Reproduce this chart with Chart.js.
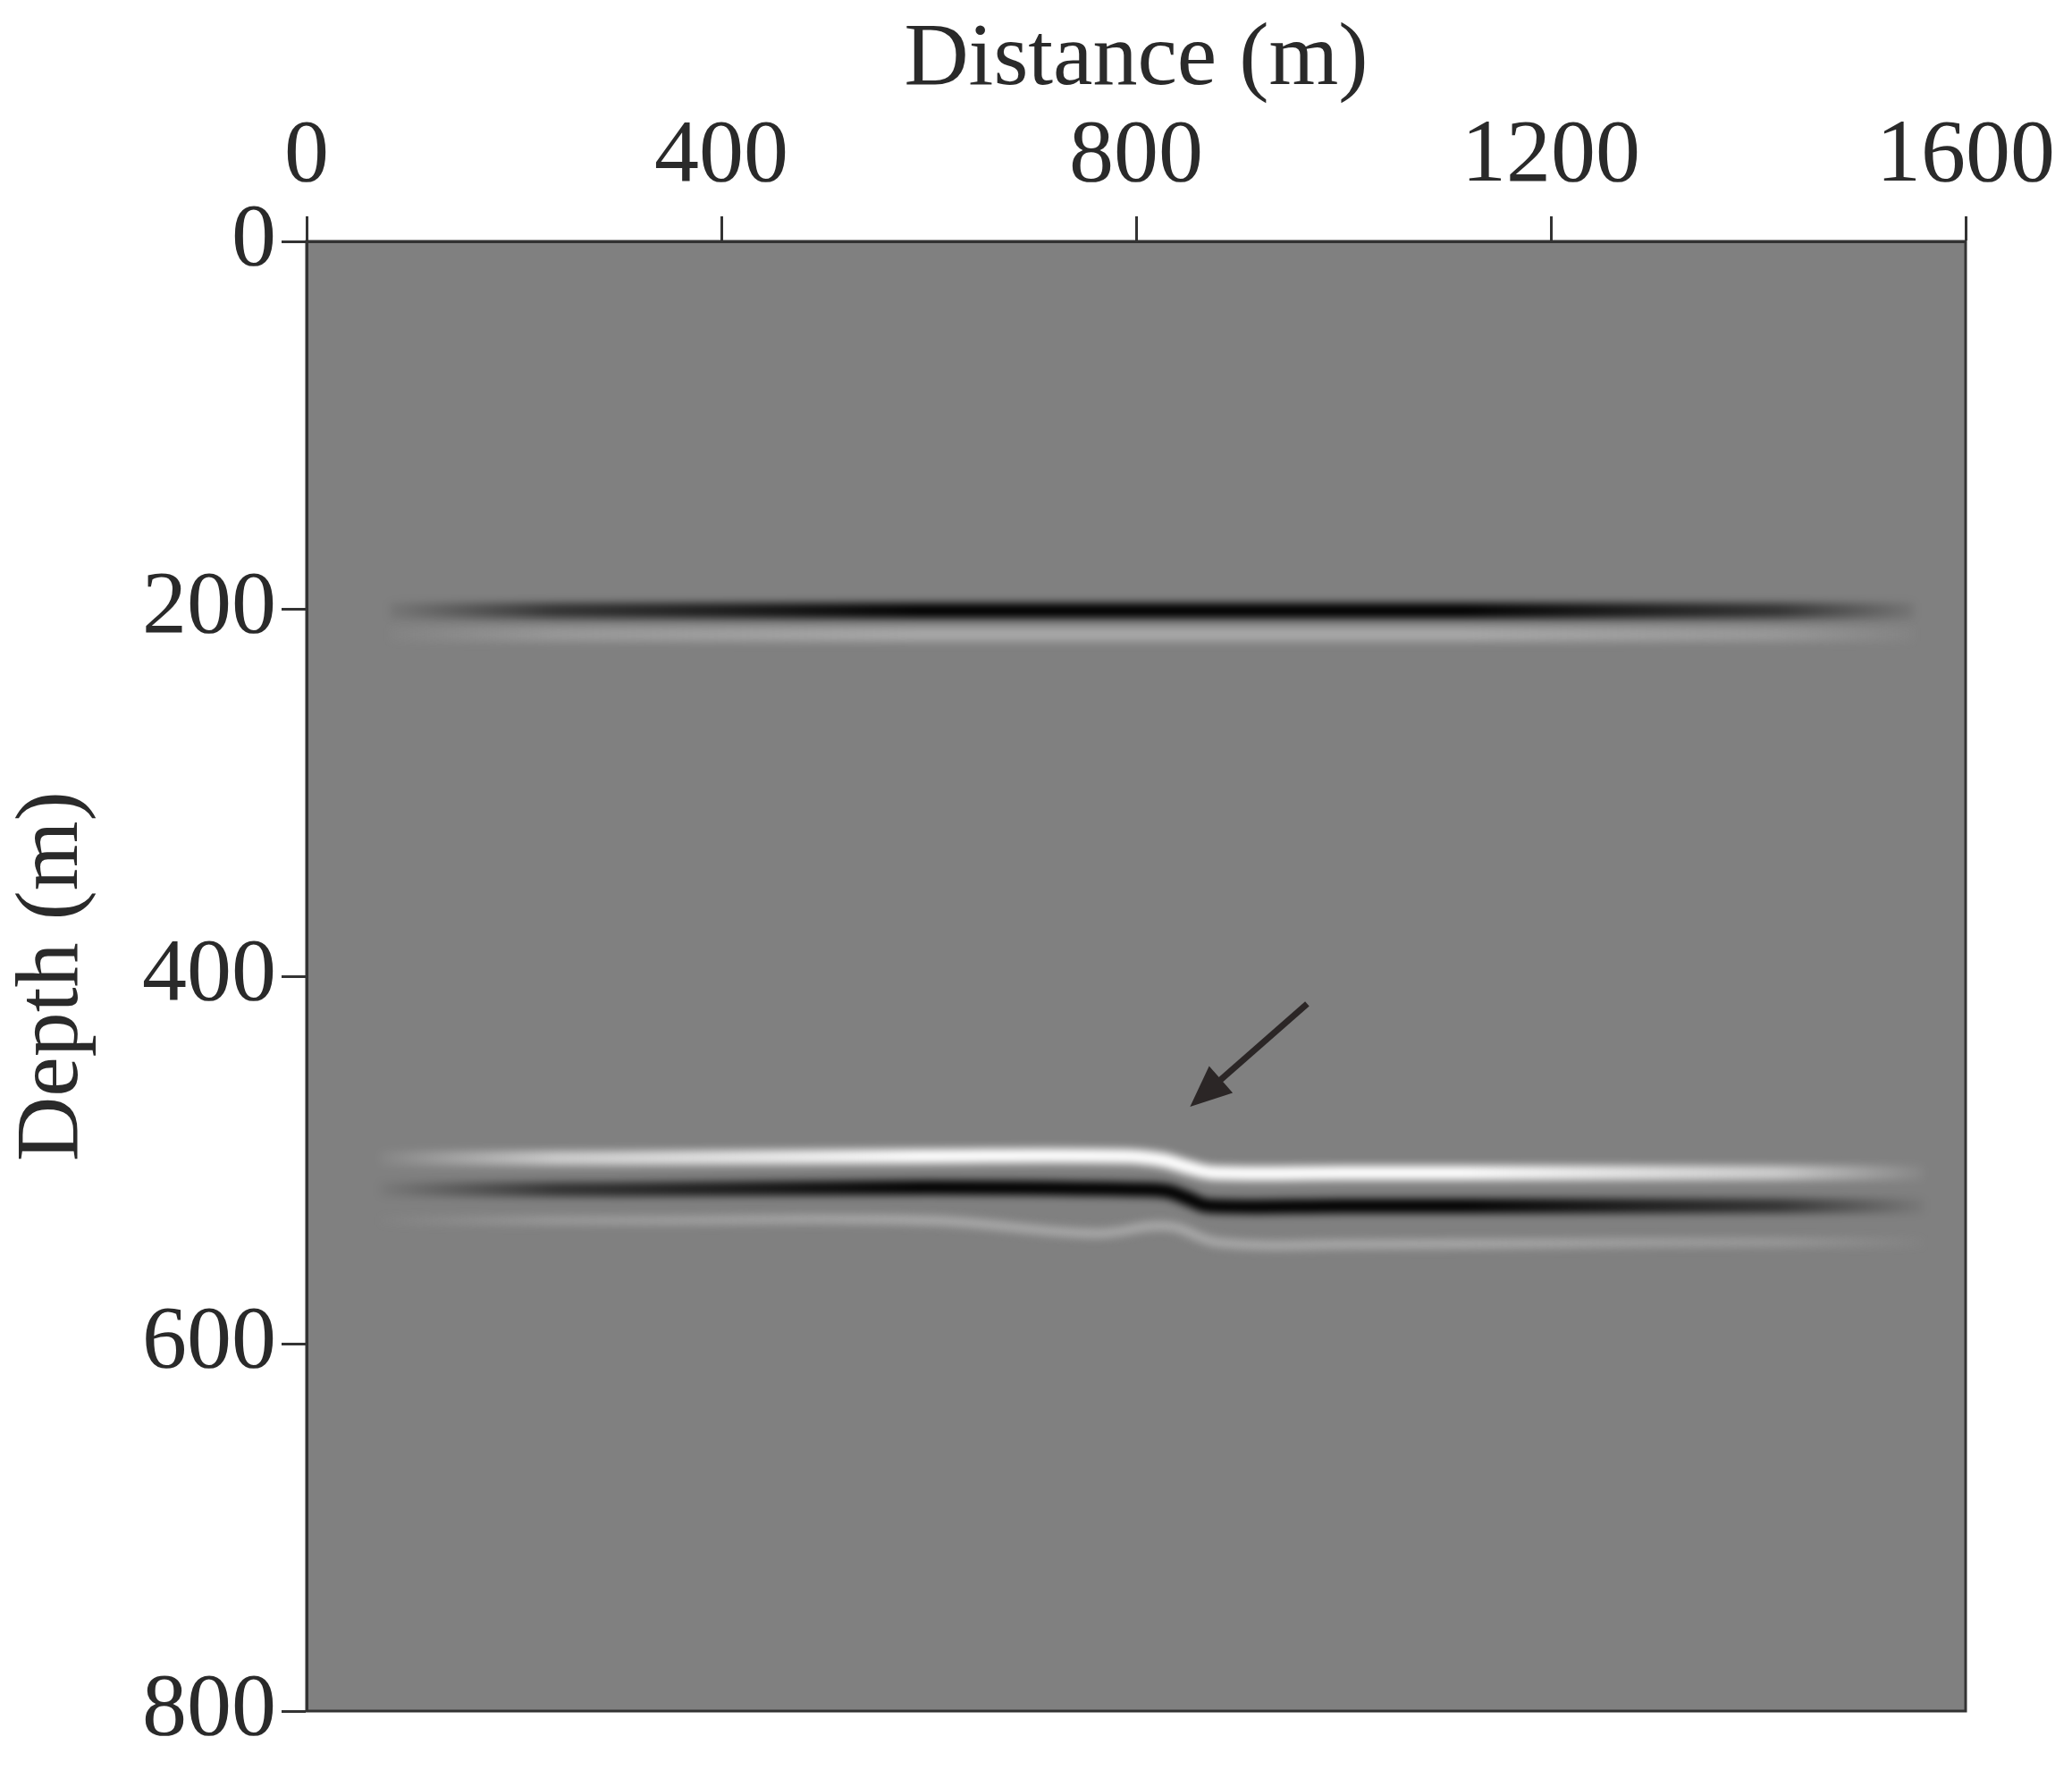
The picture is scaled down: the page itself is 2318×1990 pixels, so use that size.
<!DOCTYPE html>
<html><head><meta charset="utf-8">
<script src="https://cdn.jsdelivr.net/npm/chart.js@4/dist/chart.umd.min.js"></script>
<style>html,body{margin:0;padding:0;background:#fff}</style>
</head><body><canvas id="c" width="2318" height="1990"></canvas>
<script>
const xTicks = [0, 400, 800, 1200, 1600];
const yTicks = [0, 200, 400, 600, 800];
// reflectors: distance (m) and depth (m)
const r1DarkX = [80, 400, 800, 1200, 1550];
const r1DarkY = [201, 201, 201, 201, 201];
const r1LightX = [80, 400, 800, 1200, 1550];
const r1LightY = [214, 214, 214, 214, 214];
const r2WhiteX = [70, 300, 600, 790, 825, 850, 875, 1000, 1300, 1560];
const r2WhiteY = [499, 499, 498, 498, 500, 504, 507, 507, 507, 507];
const r2DarkX = [70, 300, 600, 800, 830, 850, 870, 1000, 1300, 1560];
const r2DarkY = [516, 516, 515, 516, 517, 521, 525, 525, 525, 525];
const r2FaintX = [70, 300, 600, 760, 830, 880, 1000, 1300, 1560];
const r2FaintY = [533, 533, 533, 540, 536, 545, 546, 545, 545];
const arrowX = [965, 852];
const arrowY = [415, 471];

function pts(xs, ys){ return xs.map((x,i)=>({x:x, y:ys[i]})); }
function grad(rgb, a){
  return (c)=>{
    const ch=c.chart, ca=ch.chartArea; if(!ca) return 'rgba('+rgb+','+a+')';
    const sx=ch.scales.x, g=ch.ctx.createLinearGradient(sx.getPixelForValue(60),0,sx.getPixelForValue(1570),0);
    g.addColorStop(0,'rgba('+rgb+',0)');
    g.addColorStop(0.12,'rgba('+rgb+','+(a*0.6)+')');
    g.addColorStop(0.35,'rgba('+rgb+','+a+')');
    g.addColorStop(0.7,'rgba('+rgb+','+a+')');
    g.addColorStop(0.9,'rgba('+rgb+','+(a*0.6)+')');
    g.addColorStop(1,'rgba('+rgb+',0)');
    return g;
  };
}
function ds(xs, ys, rgb, a, w){
  return {data:pts(xs,ys), borderColor:grad(rgb,a), borderWidth:w, pointRadius:0, tension:0.4, fill:false};
}
const bgPlugin = {
  id:'bg',
  beforeDraw(ch){ const {ctx,chartArea:a}=ch; ctx.save(); ctx.fillStyle='#fff'; ctx.fillRect(0,0,ch.width,ch.height); ctx.fillStyle='#808080'; ctx.fillRect(a.left,a.top,a.right-a.left,a.bottom-a.top); ctx.restore(); },
  beforeDatasetsDraw(ch){ const {ctx,chartArea:a}=ch; ctx.save(); ctx.beginPath(); ctx.rect(a.left,a.top,a.right-a.left,a.bottom-a.top); ctx.clip(); ctx.filter='blur(5px)'; },
  afterDatasetsDraw(ch){
    const ctx=ch.ctx; ctx.restore();
    const sx=ch.scales.x, sy=ch.scales.y;
    const x0=sx.getPixelForValue(arrowX[0]), y0=sy.getPixelForValue(arrowY[0]);
    const x1=sx.getPixelForValue(arrowX[1]), y1=sy.getPixelForValue(arrowY[1]);
    const ang=Math.atan2(y1-y0,x1-x0), L=46, W=20;
    ctx.save(); ctx.strokeStyle='#2b2626'; ctx.fillStyle='#2b2626'; ctx.lineWidth=7;
    ctx.beginPath(); ctx.moveTo(x0,y0); ctx.lineTo(x1-Math.cos(ang)*L*0.8,y1-Math.sin(ang)*L*0.8); ctx.stroke();
    ctx.beginPath(); ctx.moveTo(x1,y1);
    ctx.lineTo(x1-Math.cos(ang)*L-Math.sin(ang)*W, y1-Math.sin(ang)*L+Math.cos(ang)*W);
    ctx.lineTo(x1-Math.cos(ang)*L+Math.sin(ang)*W, y1-Math.sin(ang)*L-Math.cos(ang)*W);
    ctx.closePath(); ctx.fill();
    const a=ch.chartArea; ctx.strokeStyle='#333'; ctx.lineWidth=3; ctx.strokeRect(a.left,a.top,a.right-a.left,a.bottom-a.top);
    ctx.restore();
  }
};
const font = {family:'"Liberation Serif", "DejaVu Serif", serif', size:100};
new Chart(document.getElementById('c'), {
  type:'line',
  data:{datasets:[
    ds(r1LightX, r1LightY, '200,200,200', 0.55, 16),
    ds(r1DarkX, r1DarkY, '0,0,0', 1, 17),
    ds(r2FaintX, r2FaintY, '200,200,200', 0.6, 10),
    ds(r2DarkX, r2DarkY, '0,0,0', 1, 16),
    ds(r2WhiteX, r2WhiteY, '255,255,255', 1, 16)
  ]},
  plugins:[bgPlugin],
  options:{
    responsive:false, animation:false, devicePixelRatio:1,
    layout:{padding:{left:0,right:119,top:0,bottom:76}},
    plugins:{legend:{display:false}, tooltip:{enabled:false}},
    scales:{
      x:{type:'linear', position:'top', min:0, max:1600,
        afterBuildTicks(s){ s.ticks = xTicks.map(v=>({value:v})); },
        afterFit(s){ s.height=270; },
        ticks:{font:font, color:'#2a2a2a', padding:6, maxRotation:0, callback:v=>String(v)},
        grid:{drawOnChartArea:false, tickLength:28, tickWidth:3, color:'#333'},
        border:{color:'#333', width:3},
        title:{display:true, text:'Distance (m)', font:font, color:'#2a2a2a', padding:{top:8,bottom:0}}},
      y:{type:'linear', reverse:true, min:0, max:800,
        afterBuildTicks(s){ s.ticks = yTicks.map(v=>({value:v})); },
        afterFit(s){ s.width=343; },
        ticks:{font:font, color:'#2a2a2a', padding:6, callback:v=>String(v)},
        grid:{drawOnChartArea:false, tickLength:28, tickWidth:3, color:'#333'},
        border:{color:'#333', width:3},
        title:{display:true, text:'Depth (m)', font:font, color:'#2a2a2a', padding:{top:0,bottom:0}}}
    }
  }
});
</script>
</body></html>
